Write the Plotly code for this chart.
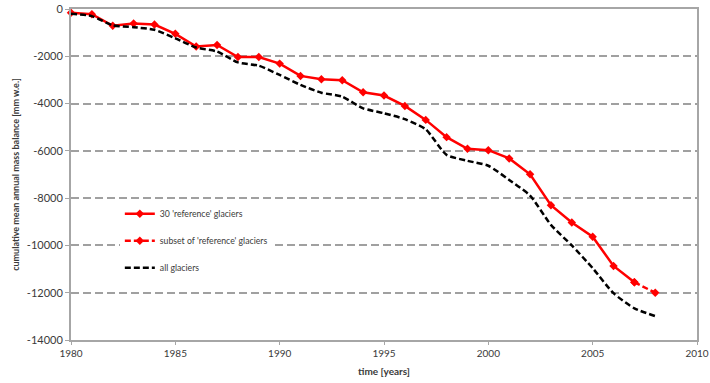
import plotly.graph_objects as go

# Cumulative mean annual mass balance [mm w.e.]
years_ref = list(range(1980, 2008))
ref_30 = [-160, -220, -710, -610, -660, -1050, -1590, -1520, -2030, -2030,
          -2310, -2830, -2970, -3010, -3520, -3660, -4100, -4690, -5420, -5910,
          -5970, -6320, -6990, -8300, -9030, -9630, -10870, -11560]

years_subset = [2007, 2008]
ref_subset = [-11560, -12000]

years_all = list(range(1980, 2009))
all_glaciers = [-200, -300, -690, -770, -880, -1240, -1630, -1800, -2260, -2400,
                -2790, -3210, -3540, -3710, -4200, -4410, -4660, -5090, -6170, -6420,
                -6630, -7230, -7890, -9130, -10000, -10960, -12020, -12660, -12990]

y_ticks = [0, -2000, -4000, -6000, -8000, -10000, -12000, -14000]
y_ticklabels = ["0", "-2000", "-4000", "-6000", "-8000", "-10000", "-12000", "-14000"]
x_ticks = [1980, 1985, 1990, 1995, 2000, 2005, 2010]

RED = "#ff0000"
FONT = "Lato"
TXT = "#3a3a3a"

fig = go.Figure()

fig.add_trace(go.Scatter(
    x=years_ref, y=ref_30, name="30 'reference' glaciers", legendgroup="a",
    mode="lines+markers", cliponaxis=False,
    line=dict(color=RED, width=2.5),
    marker=dict(symbol="diamond", size=6.5, color=RED),
))
fig.add_trace(go.Scatter(
    x=years_subset, y=ref_subset, name="subset of 'reference' glaciers", legendgroup="b",
    mode="lines+markers", cliponaxis=False,
    line=dict(color=RED, width=2.5, dash="6px,3px"),
    marker=dict(symbol="diamond", size=6.5, color=RED),
))
fig.add_trace(go.Scatter(
    x=years_all, y=all_glaciers, name="all glaciers", legendgroup="c",
    mode="lines", cliponaxis=False,
    line=dict(color="#000000", width=2.5, dash="6px,3px", shape="spline", smoothing=0.6),
))

fig.update_layout(
    width=710, height=383,
    margin=dict(l=71, r=13, t=9, b=43),
    paper_bgcolor="white", plot_bgcolor="white",
    font=dict(family=FONT, size=10, color=TXT),
    showlegend=True,
    legend=dict(
        x=0.078, y=0.425, xanchor="left", yanchor="top",
        bgcolor="white", borderwidth=0,
        font=dict(family=FONT, size=8.7, color=TXT),
        itemwidth=30, tracegroupgap=8,
    ),
    xaxis=dict(
        range=[1980, 2010], tickvals=x_ticks, automargin=False,
        showgrid=False, zeroline=False,
        showline=True, linecolor="#a6a6a6", linewidth=2, mirror=True,
        ticks="outside", ticklen=3, tickcolor="#a6a6a6", tickwidth=1,
        tickfont=dict(family=FONT, size=10, color=TXT),
        title=dict(text="<b>time [years]</b>", font=dict(family=FONT, size=10, color=TXT),
                   standoff=10),
    ),
    yaxis=dict(
        range=[-14000, 0], tickvals=y_ticks, ticktext=y_ticklabels, automargin=False,
        showgrid=True, gridcolor="#a0a0a0", gridwidth=1.5, griddash="8px,4px",
        zeroline=False,
        showline=True, linecolor="#a6a6a6", linewidth=2, mirror=True,
        ticks="outside", ticklen=4, tickcolor="#a6a6a6", tickwidth=1,
        tickfont=dict(family=FONT, size=11, color=TXT),
        title=dict(text="<b>cumulative mean annual mass balance [mm w.e.]</b>",
                   font=dict(family=FONT, size=9, color=TXT), standoff=6),
    ),
)

fig.write_html("out.html")
